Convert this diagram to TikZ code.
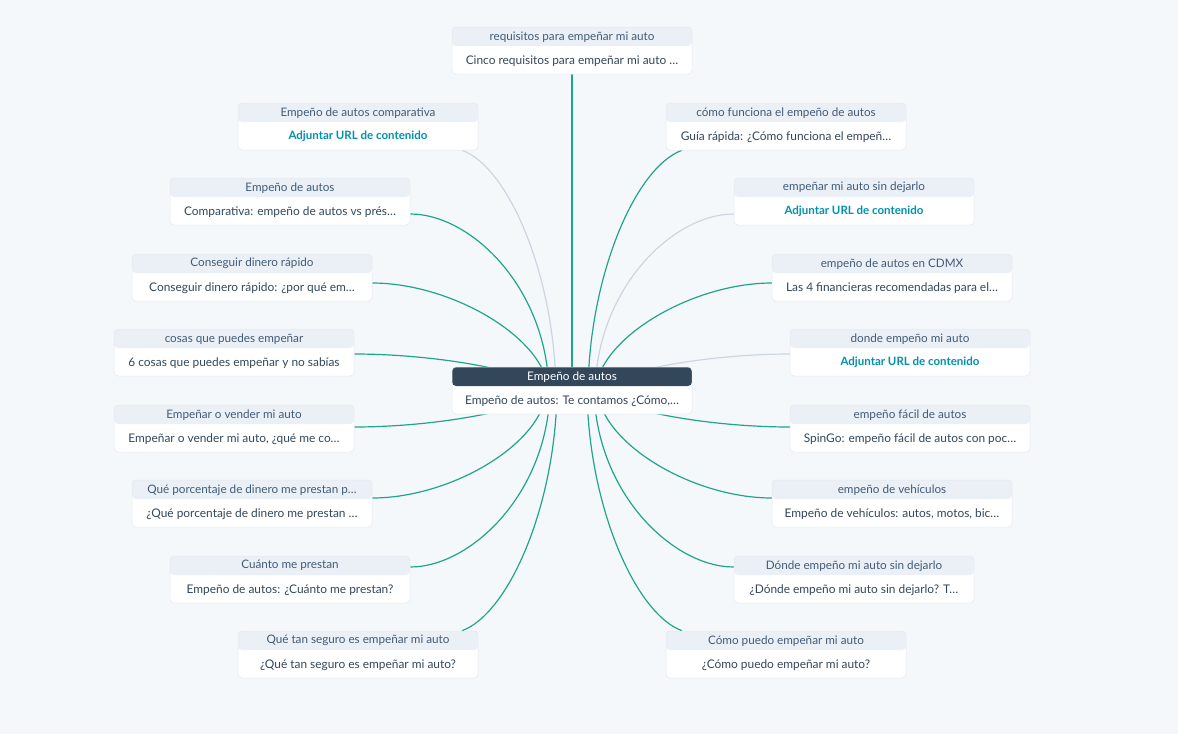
\documentclass[tikz,border=0pt]{standalone}
\usepackage{fontspec}
\setmainfont{Lato}
\usetikzlibrary{calc}
\definecolor{bgc}{HTML}{F5F8FA}
\definecolor{hdrc}{HTML}{EAF0F6}
\definecolor{darkc}{HTML}{33475B}
\definecolor{txtc}{HTML}{33475B}
\definecolor{htxtc}{HTML}{425B76}
\definecolor{linkc}{HTML}{0091AE}
\definecolor{edgec}{HTML}{E3E9EF}
\definecolor{grn}{HTML}{1FA58C}
\definecolor{gry}{HTML}{CBD6E2}
\pgfdeclarelayer{bglayer}
\pgfdeclarelayer{linelayer}
\pgfsetlayers{bglayer,linelayer,main}
\tikzset{
  card/.style={rounded corners=4pt, fill=white, draw=edgec, line width=0.5pt,
    minimum width=240pt, minimum height=47pt, inner sep=0pt,
    path picture={\fill[hdrc] ([yshift=1pt]path picture bounding box.north west)
      rectangle ([yshift=-19pt]path picture bounding box.north east);}},
  maincard/.style={rounded corners=4pt, fill=white, draw=edgec, line width=0.5pt,
    minimum width=240pt, minimum height=47pt, inner sep=0pt,
    path picture={\fill[darkc] ([yshift=1pt]path picture bounding box.north west)
      rectangle ([yshift=-19pt]path picture bounding box.north east);}},
  hdrtext/.style={inner sep=0pt, text=htxtc, font=\fontsize{11.7}{13}\selectfont},
  maintext/.style={inner sep=0pt, text=white, font=\fontsize{11.8}{13}\selectfont},
  bodytext/.style={inner sep=0pt, text=txtc, font=\fontsize{11.9}{13}\selectfont},
  linktext/.style={inner sep=0pt, text=linkc, font=\bfseries\fontsize{11.5}{13}\selectfont},
  gline/.style={draw=grn, line width=1.2pt},
  yline/.style={draw=gry, line width=1.2pt},
}
\newcommand\mapcard[6]{%
  \node[card] (#1) at (#2,#3) {};
  \node[hdrtext] (#1h) at ($(#1.north)+(0,10)$) {#4};
  \node[#6] (#1b) at ($(#1.north)+(0,34)$) {#5};
}
\begin{document}
\begin{tikzpicture}[x=1pt,y=-1pt]
\begin{pgfonlayer}{bglayer}
  \fill[bgc] (0,0) rectangle (1178,734);
\end{pgfonlayer}
\useasboundingbox (0,0) rectangle (1178,734);

% top
\mapcard{req}{572}{50.5}{requisitos para empeñar mi auto}{Cinco requisitos para empeñar mi auto …}{bodytext}
% left column
\mapcard{la}{358}{126.5}{Empeño de autos comparativa}{Adjuntar URL de contenido}{linktext}
\mapcard{lb}{290}{201.5}{Empeño de autos}{Comparativa: empeño de autos vs prés…}{bodytext}
\mapcard{lc}{252}{277.5}{Conseguir dinero rápido}{Conseguir dinero rápido: ¿por qué em…}{bodytext}
\mapcard{ld}{234}{352.5}{cosas que puedes empeñar}{6 cosas que puedes empeñar y no sabías}{bodytext}
\mapcard{le}{234}{428.5}{Empeñar o vender mi auto}{Empeñar o vender mi auto, ¿qué me co…}{bodytext}
\mapcard{lf}{252}{503.5}{Qué porcentaje de dinero me prestan p…}{¿Qué porcentaje de dinero me prestan …}{bodytext}
\mapcard{lg}{290}{579.5}{Cuánto me prestan}{Empeño de autos: ¿Cuánto me prestan?}{bodytext}
\mapcard{lh}{358}{654.5}{Qué tan seguro es empeñar mi auto}{¿Qué tan seguro es empeñar mi auto?}{bodytext}
% right column
\mapcard{ra}{786}{126.5}{cómo funciona el empeño de autos}{Guía rápida: ¿Cómo funciona el empeñ…}{bodytext}
\mapcard{rb}{854}{201.5}{empeñar mi auto sin dejarlo}{Adjuntar URL de contenido}{linktext}
\mapcard{rc}{892}{277.5}{empeño de autos en CDMX}{Las 4 financieras recomendadas para el…}{bodytext}
\mapcard{rd}{910}{352.5}{donde empeño mi auto}{Adjuntar URL de contenido}{linktext}
\mapcard{re}{910}{428.5}{empeño fácil de autos}{SpinGo: empeño fácil de autos con poc…}{bodytext}
\mapcard{rf}{892}{503.5}{empeño de vehículos}{Empeño de vehículos: autos, motos, bic…}{bodytext}
\mapcard{rg}{854}{579.5}{Dónde empeño mi auto sin dejarlo}{¿Dónde empeño mi auto sin dejarlo? T…}{bodytext}
\mapcard{rh}{786}{654.5}{Cómo puedo empeñar mi auto}{¿Cómo puedo empeñar mi auto?}{bodytext}
% centre
\node[maincard] (cen) at (572,390.5) {};
\node[maintext] (cenh) at ($(cen.north)+(0,10)$) {Empeño de autos};
\node[bodytext] (cenb) at ($(cen.north)+(0,34)$) {Empeño de autos: Te contamos ¿Cómo,…};

\begin{pgfonlayer}{linelayer}
  \draw[gline] (req.south) -- (cen.north);
  % left upper
  \draw[yline] ($(cen.center)+(-16,4.5)$) .. controls (556,280) and (510,168) .. ($(la.south)+(104,0)$);
  \draw[gline] ($(cen.center)+(-23,4.5)$) .. controls (549,290) and (472,214) .. ($(lb.east)+(0,12.5)$);
  \draw[gline] ($(cen.center)+(-23,4.5)$) .. controls (549,339) and (452,283) .. ($(lc.east)+(0,5.5)$);
  \draw[gline] ($(cen.center)+(-23,4.5)$) .. controls (549,374) and (442,354) .. ($(ld.east)+(0,1.5)$);
  % left lower
  \draw[gline] ($(cen.center)+(-25,-4.5)$) .. controls (547,407) and (442,427) .. ($(le.east)+(0,-1.5)$);
  \draw[gline] ($(cen.center)+(-25,-4.5)$) .. controls (547,442) and (452,498) .. ($(lf.east)+(0,-5.5)$);
  \draw[gline] ($(cen.center)+(-22,-4.5)$) .. controls (550,491) and (472,567) .. ($(lg.east)+(0,-12.5)$);
  \draw[gline] ($(cen.center)+(-15,-4.5)$) .. controls (557,501) and (510,613) .. ($(lh.north)+(104,0)$);
  % right upper
  \draw[gline] ($(cen.center)+(16,4.5)$) .. controls (588,280) and (634,168) .. ($(ra.south)+(-104,0)$);
  \draw[yline] ($(cen.center)+(23,4.5)$) .. controls (595,290) and (672,214) .. ($(rb.west)+(0,12.5)$);
  \draw[gline] ($(cen.center)+(23,4.5)$) .. controls (595,339) and (692,283) .. ($(rc.west)+(0,5.5)$);
  \draw[yline] ($(cen.center)+(23,4.5)$) .. controls (595,374) and (702,354) .. ($(rd.west)+(0,1.5)$);
  % right lower
  \draw[gline] ($(cen.center)+(25,-4.5)$) .. controls (597,407) and (702,427) .. ($(re.west)+(0,-1.5)$);
  \draw[gline] ($(cen.center)+(25,-4.5)$) .. controls (597,442) and (692,498) .. ($(rf.west)+(0,-5.5)$);
  \draw[gline] ($(cen.center)+(22,-4.5)$) .. controls (594,491) and (672,567) .. ($(rg.west)+(0,-12.5)$);
  \draw[gline] ($(cen.center)+(15,-4.5)$) .. controls (587,501) and (634,613) .. ($(rh.north)+(-104,0)$);
\end{pgfonlayer}
\end{tikzpicture}
\end{document}
